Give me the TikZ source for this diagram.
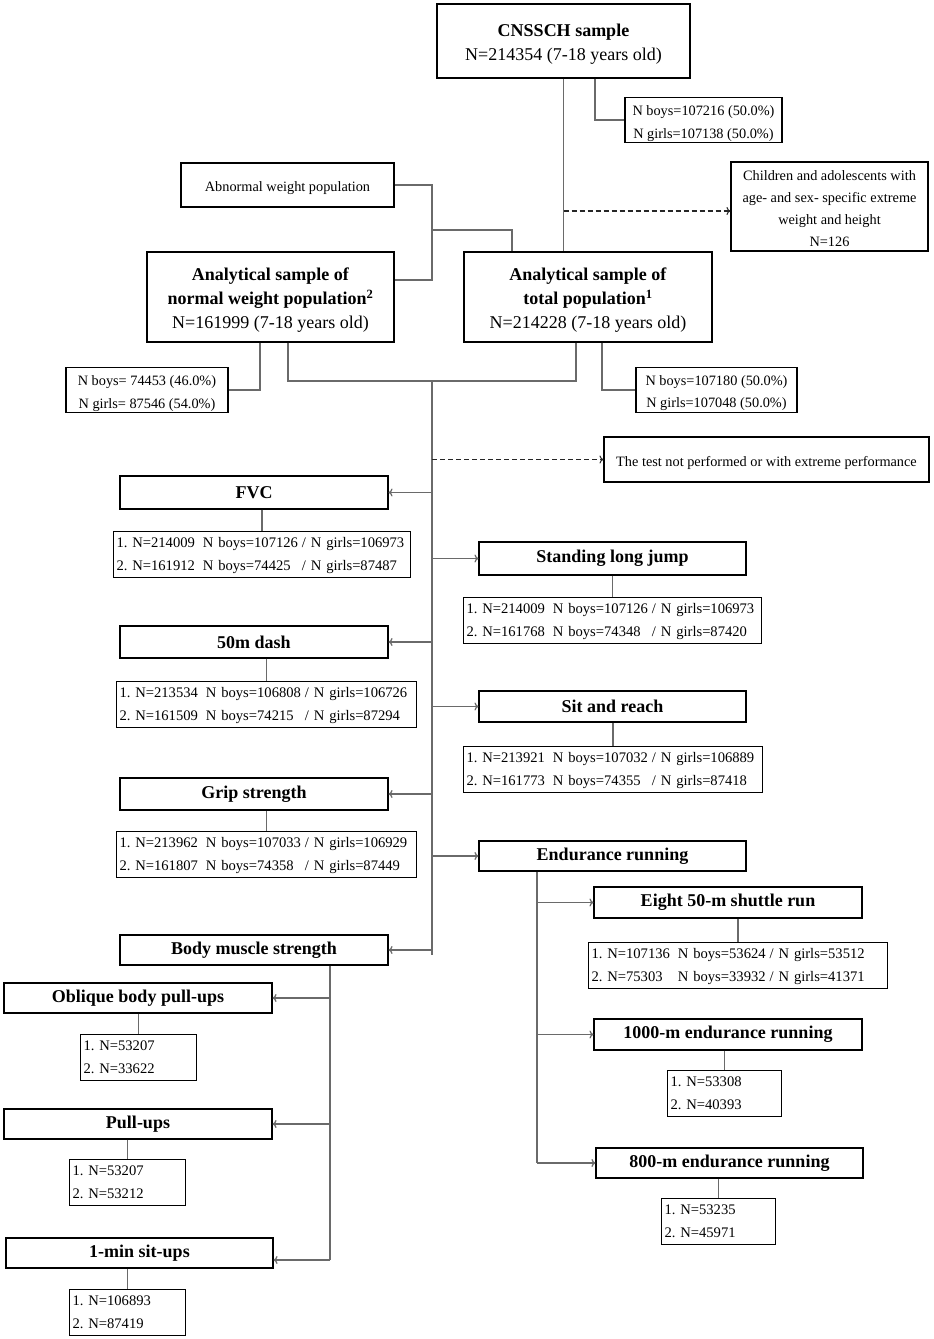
\documentclass[tikz,border=0pt]{standalone}
\usepackage{fontspec}
\setmainfont{Liberation Serif}
\usetikzlibrary{arrows.meta,calc}
\definecolor{lgray}{HTML}{6A6A6A}
\newcommand{\sm}{\fontsize{14.3}{22.5}\selectfont}
\newcommand{\st}{\fontsize{14.6}{23}\selectfont}
\newcommand{\bg}{\fontsize{18}{24}\selectfont}
\newcommand{\twocol}[6]{\begin{tabular}{@{}l@{\hspace{8pt}}l@{\hspace{4pt}}l@{}}#1 & #2 & #3\\ #4 & #5 & #6\end{tabular}}
\newcommand{\onecol}[2]{\begin{tabular}{@{}l@{}}#1\\ #2\end{tabular}}
\newcommand{\dn}[2][-3pt]{\raisebox{#1}[\height][\depth]{\begin{tabular}{@{}c@{}}#2\end{tabular}}}
\begin{document}
\frenchspacing
\begin{tikzpicture}[x=1pt,y=-1pt,
  box/.style={draw=black, line width=1.1pt, inner sep=0pt, align=center},
  big/.style={box, font=\bg},
  small/.style={box, font=\sm},
  head/.style={box, font=\fontsize{18}{20}\selectfont\bfseries},
  stat/.style={draw=black, line width=1.1pt, anchor=north west, inner xsep=3pt, inner ysep=0pt, text width=#1, align=left, font=\st},
  conn/.style={draw=lgray, line width=1.2pt},
  arr/.style={conn, -{To[length=4pt,width=8pt]}},
  darr/.style={draw=black!85, line width=1.1pt, dashed, dash pattern=on 5pt off 3pt, -{To[length=4pt,width=8pt]}}]
\useasboundingbox (0,0) rectangle (934,1339);
\fill[white] (0,0) rectangle (934,1339);

% top part
\node[big, minimum width=253pt, minimum height=74pt] (cns) at (563.5,41) {\dn{\textbf{CNSSCH sample}\\N=214354 (7-18 years old)}};
\node[small, minimum width=157pt, minimum height=44pt] (topbg) at (703.5,120) {\dn[-2.5pt]{N boys=107216 (50.0\%)\\N girls=107138 (50.0\%)}};
\node[small, minimum width=197pt, minimum height=89pt, font=\fontsize{14.3}{22}\selectfont] (child) at (829.5,206.5) {\dn[-2.5pt]{Children and adolescents with\\age- and sex- specific extreme\\weight and height\\N=126}};
\node[small, minimum width=213pt, minimum height=44pt] (abn) at (287.5,185) {\dn[-2pt]{Abnormal weight population}};
\node[big, minimum width=247pt, minimum height=90pt] (norm) at (270.5,297) {\dn{\textbf{Analytical sample of}\\\textbf{normal weight population\textsuperscript{2}}\\N=161999 (7-18 years old)}};
\node[big, minimum width=248pt, minimum height=90pt] (tot) at (588,297) {\dn{\textbf{Analytical sample of}\\\textbf{total population\textsuperscript{1}}\\N=214228 (7-18 years old)}};
\node[small, minimum width=162pt, minimum height=44pt] (lbg) at (147,390) {\dn[-2.5pt]{N boys= 74453 (46.0\%)\\N girls= 87546 (54.0\%)}};
\node[small, minimum width=161pt, minimum height=44pt] (rbg) at (716.5,390) {\dn[-2pt]{N boys=107180 (50.0\%)\\N girls=107048 (50.0\%)}};
\node[small, minimum width=325pt, minimum height=45pt] (tnp) at (766.5,459.5) {\dn[-2pt]{The test not performed or with extreme performance}};

% left column tests
\node[head, minimum width=268pt, minimum height=33pt] (fvc) at (254,492.5) {FVC};
\node[stat=291pt] (fvcs) at (113,531) {\twocol{1. N=214009}{N boys=107126}{/ N girls=106973}{2. N=161912}{N boys=74425}{/ N girls=87487}};
\node[head, minimum width=268pt, minimum height=32pt] (dash) at (254,642) {50m dash};
\node[stat=294pt] (dashs) at (116,681) {\twocol{1. N=213534}{N boys=106808}{/ N girls=106726}{2. N=161509}{N boys=74215}{/ N girls=87294}};
\node[head, minimum width=268pt, minimum height=32pt] (grip) at (254,794) {Grip strength};
\node[stat=294pt] (grips) at (116,831) {\twocol{1. N=213962}{N boys=107033}{/ N girls=106929}{2. N=161807}{N boys=74358}{/ N girls=87449}};
\node[head, minimum width=268pt, minimum height=30pt] (body) at (254,950) {Body muscle strength};

% right column tests
\node[head, minimum width=267pt, minimum height=33pt] (slj) at (612.5,558.5) {Standing long jump};
\node[stat=292pt] (sljs) at (463,597) {\twocol{1. N=214009}{N boys=107126}{/ N girls=106973}{2. N=161768}{N boys=74348}{/ N girls=87420}};
\node[head, minimum width=267pt, minimum height=31pt] (sit) at (612.5,706.5) {Sit and reach};
\node[stat=293pt] (sits) at (463,746) {\twocol{1. N=213921}{N boys=107032}{/ N girls=106889}{2. N=161773}{N boys=74355}{/ N girls=87418}};
\node[head, minimum width=267pt, minimum height=30pt] (endu) at (612.5,856) {Endurance running};

% endurance sub
\node[head, minimum width=268pt, minimum height=31pt] (shut) at (728,902.5) {Eight 50-m shuttle run};
\node[stat=293pt] (shuts) at (588,942) {\twocol{1. N=107136}{N boys=53624}{/ N girls=53512}{2. N=75303}{N boys=33932}{/ N girls=41371}};
\node[head, minimum width=268pt, minimum height=31pt] (mk) at (728,1034.5) {1000-m endurance running};
\node[stat=108pt] (mks) at (667,1070) {\onecol{1. N=53308}{2. N=40393}};
\node[head, minimum width=267pt, minimum height=30pt] (me) at (729.5,1163) {800-m endurance running};
\node[stat=108pt] (mes) at (661,1198) {\onecol{1. N=53235}{2. N=45971}};

% body muscle sub
\node[head, minimum width=268pt, minimum height=30pt] (obl) at (138,998) {Oblique body pull-ups};
\node[stat=110pt] (obls) at (80,1034) {\onecol{1. N=53207}{2. N=33622}};
\node[head, minimum width=268pt, minimum height=30pt] (pull) at (138,1124) {Pull-ups};
\node[stat=110pt] (pulls) at (69,1159) {\onecol{1. N=53207}{2. N=53212}};
\node[head, minimum width=267pt, minimum height=30pt] (situp) at (139.5,1253) {1-min sit-ups};
\node[stat=110pt] (situps) at (69,1289) {\onecol{1. N=106893}{2. N=87419}};

% coordinates
\coordinate (j1) at (432,230);
\coordinate (j2) at (432,381);
\coordinate (e1) at ([xshift=-75.5pt]endu.south);
\coordinate (b1) at ([xshift=76pt]body.south);
\coordinate (chin) at ([yshift=-4.5pt]child.west);
\coordinate (cnsr) at ([xshift=31.5pt]cns.south);
\coordinate (normin) at ([yshift=17pt]norm.east);
\coordinate (totin) at ([xshift=-76pt]tot.north);
\coordinate (normL) at ([xshift=-10.5pt]norm.south);
\coordinate (normR) at ([xshift=17.5pt]norm.south);
\coordinate (totL) at ([xshift=-12pt]tot.south);
\coordinate (totR) at ([xshift=14pt]tot.south);
\coordinate (situpin) at ([yshift=-7pt]situp.east);
\coordinate (mainend) at ([yshift=-5pt]body.east);

% top connectors
\draw[conn] (cns.south) -- (cns.south |- tot.north);
\draw[conn] (cnsr) |- (topbg.west);
\draw[darr] (cns.south |- chin) -- (chin);
\draw[conn] (abn.east) -| (j1) |- (normin);
\draw[conn] (j1) -| (totin);
\draw[conn] (normL) |- (lbg.east);
\draw[conn] (totR) |- (rbg.west);
\draw[conn] (normR) |- (j2) -| (totL);
\draw[conn] (j2) -- (j2 |- mainend);

% main arrows
\draw[darr] (j2 |- tnp.west) -- (tnp.west);
\draw[arr] (j2 |- fvc.east) -- (fvc.east);
\draw[arr] (j2 |- slj.west) -- (slj.west);
\draw[arr] (j2 |- dash.east) -- (dash.east);
\draw[arr] (j2 |- sit.west) -- (sit.west);
\draw[arr] (j2 |- grip.east) -- (grip.east);
\draw[arr] (j2 |- endu.west) -- (endu.west);
\draw[arr] (j2 |- body.east) -- (body.east);

% stats connectors
\draw[conn] (fvcs.north |- fvc.south) -- (fvcs.north);
\draw[conn] (sljs.north |- slj.south) -- (sljs.north);
\draw[conn] (dashs.north |- dash.south) -- (dashs.north);
\draw[conn] (sits.north |- sit.south) -- (sits.north);
\draw[conn] (grips.north |- grip.south) -- (grips.north);
\draw[conn] (shuts.north |- shut.south) -- (shuts.north);
\draw[conn] (mks.north |- mk.south) -- (mks.north);
\draw[conn] (mes.north |- me.south) -- (mes.north);
\draw[conn] (obls.north |- obl.south) -- (obls.north);
\draw[conn] (pulls.north |- pull.south) -- (pulls.north);
\draw[conn] (situps.north |- situp.south) -- (situps.north);

% endurance branch
\draw[conn] (e1) -- (e1 |- me.west);
\draw[arr] (e1 |- shut.west) -- (shut.west);
\draw[arr] (e1 |- mk.west) -- (mk.west);
\draw[arr] (e1 |- me.west) -- (me.west);

% body muscle branch
\draw[conn] (b1) -- (b1 |- situpin);
\draw[arr] (b1 |- obl.east) -- (obl.east);
\draw[arr] (b1 |- pull.east) -- (pull.east);
\draw[arr] (b1 |- situpin) -- (situpin);
\end{tikzpicture}
\end{document}
